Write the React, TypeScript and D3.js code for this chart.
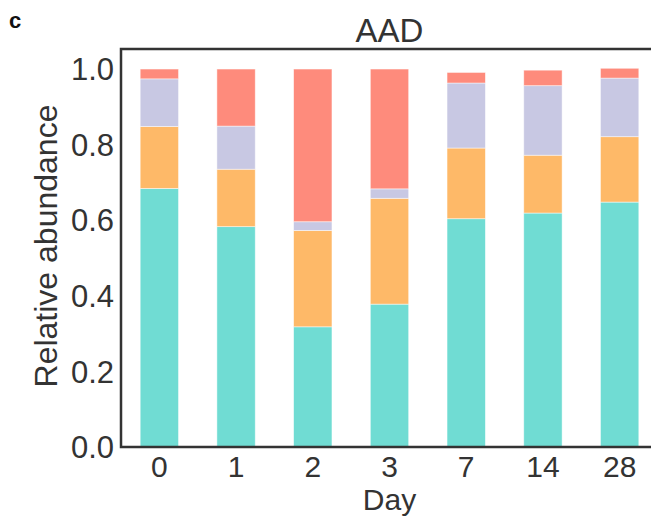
import React from 'react';
import * as d3 from 'd3';

const days = ['0', '1', '2', '3', '7', '14', '28'];
const teal = [0.684, 0.583, 0.318, 0.378, 0.604, 0.619, 0.648];
const orange = [0.164, 0.152, 0.255, 0.28, 0.187, 0.153, 0.173];
const purple = [0.126, 0.114, 0.023, 0.025, 0.172, 0.184, 0.155];
const red = [0.026, 0.151, 0.404, 0.317, 0.028, 0.041, 0.026];
const yTicks = [0, 0.2, 0.4, 0.6, 0.8, 1.0];

const seriesKeys = ['teal', 'orange', 'purple', 'red'];
const colors = ['#70dcd3', '#feb968', '#c8c8e3', '#fe8b7c'];

const W = 651;
const H = 521;
const font = '"Liberation Sans", Arial, Helvetica, sans-serif';
const ink = '#333333';

export default function App() {
  const left = 121;
  const right = 658;
  const top = 49;
  const bottom = 447;

  const x = d3.scaleBand().domain(days).range([left, right]).paddingInner(0.5).paddingOuter(0.25);
  const y = d3.scaleLinear().domain([0, 1.053]).range([bottom, top]);

  const rows = days.map((d, i) => ({
    day: d,
    teal: teal[i],
    orange: orange[i],
    purple: purple[i],
    red: red[i],
  }));
  const stacked = d3.stack<any>().keys(seriesKeys)(rows);

  return (
    <svg width={W} height={H} style={{ position: 'absolute', left: 0, top: 0, background: '#fff' }} fontFamily={font}>
      <text x={9} y={28} fontSize={22} fontWeight="bold" fill="#111">c</text>
      <text x={(left + right) / 2} y={42} textAnchor="middle" fontSize={33} fill={ink}>AAD</text>

      {stacked.map((layer, k) => (
        <g key={layer.key} fill={colors[k]}>
          {layer.map((seg, i) => (
            <rect
              key={i}
              x={x(days[i])}
              width={x.bandwidth()}
              y={y(seg[1])}
              height={y(seg[0]) - y(seg[1])}
              stroke="#fff"
              strokeOpacity={0.6}
              strokeWidth={0.8}
            />
          ))}
        </g>
      ))}

      {/* spines */}
      <path d={`M${right},${top}H${left}V${bottom}H${right}`} fill="none" stroke={ink} strokeWidth={2.5} />

      {yTicks.map((t) => (
        <text key={t} x={left - 7} y={y(t)} dy="0.36em" textAnchor="end" fontSize={31} fill={ink}>
          {t.toFixed(1)}
        </text>
      ))}
      {days.map((d) => (
        <text key={d} x={(x(d) as number) + x.bandwidth() / 2} y={477} textAnchor="middle" fontSize={30} fill={ink}>
          {d}
        </text>
      ))}
      <text x={(left + right) / 2} y={510} textAnchor="middle" fontSize={30} fill={ink}>Day</text>
      <text
        transform={`translate(57,246) rotate(-90)`}
        textAnchor="middle"
        fontSize={32}
        fill={ink}
      >
        Relative abundance
      </text>
    </svg>
  );
}
